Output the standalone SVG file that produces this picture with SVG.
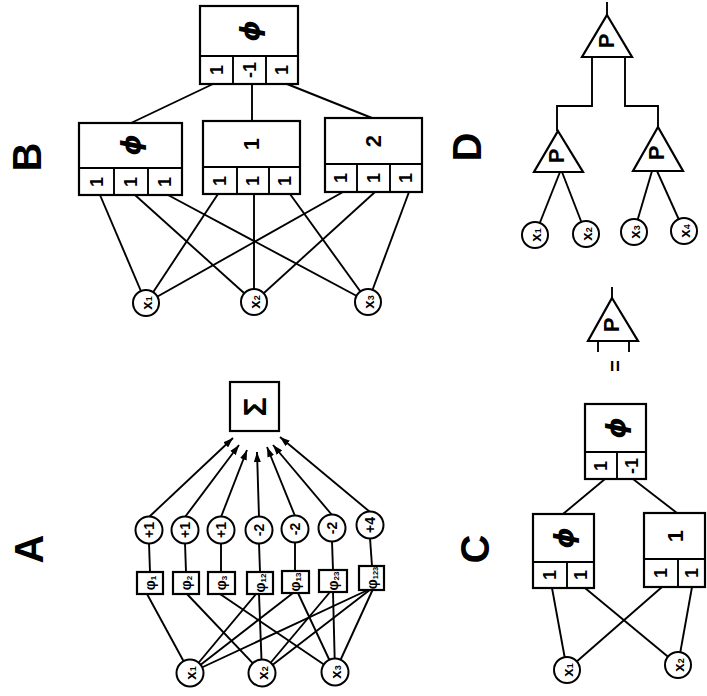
<svg xmlns="http://www.w3.org/2000/svg" width="707" height="696" viewBox="0 0 707 696">
<defs>
<style>
.ln{stroke:#000;stroke-width:1.9;fill:none}
.bx{fill:#fff;stroke:#000;stroke-width:2.2}
.nd{fill:#fff;stroke:#000;stroke-width:2}
text{font-family:"Liberation Sans",Arial,sans-serif;font-weight:bold;fill:#000;text-anchor:middle;dominant-baseline:central}
.lab{font-size:40px}
.c1{font-size:18px}
.phi{font-family:"DejaVu Sans","Liberation Sans",sans-serif;font-size:27px;font-weight:bold;font-style:italic}
.num{font-size:22px}
.w{font-size:14px}
.f{font-size:14px}
.x{font-size:15px}
.P{font-size:22px}
</style>
<marker id="ah" viewBox="0 0 10 7" refX="10" refY="3.5" markerWidth="10" markerHeight="7" markerUnits="userSpaceOnUse" orient="auto"><path d="M0,0 L10,3.5 L0,7 z" fill="#000"/></marker>
</defs>
<rect width="707" height="696" fill="#fff"/>

<g id="labels">
<text class="lab" transform="translate(27 157) rotate(-90)">B</text>
<text class="lab" transform="translate(29 549) rotate(-90)">A</text>
<text class="lab" transform="translate(467 147) rotate(-90)">D</text>
<text class="lab" transform="translate(475 549) rotate(-90)">C</text>
</g>

<g id="connectors" class="ln">
<line x1="213" y1="84" x2="131" y2="123"/>
<line x1="252" y1="84" x2="252" y2="121"/>
<line x1="287" y1="84" x2="372" y2="118"/>
<line x1="100" y1="195" x2="146" y2="303"/>
<line x1="135" y1="195" x2="254" y2="302"/>
<line x1="168" y1="195" x2="368" y2="302"/>
<line x1="218" y1="194" x2="146" y2="303"/>
<line x1="254" y1="194" x2="254" y2="302"/>
<line x1="290" y1="194" x2="368" y2="302"/>
<line x1="343" y1="192" x2="146" y2="303"/>
<line x1="375" y1="192" x2="254" y2="302"/>
<line x1="409" y1="192" x2="368" y2="302"/>
<line x1="147" y1="594" x2="190" y2="673"/>
<line x1="187" y1="594" x2="262" y2="673"/>
<line x1="220" y1="594" x2="335" y2="672"/>
<line x1="256" y1="594" x2="190" y2="673"/>
<line x1="259" y1="594" x2="262" y2="673"/>
<line x1="293" y1="593" x2="190" y2="673"/>
<line x1="298" y1="593" x2="335" y2="672"/>
<line x1="330" y1="592" x2="262" y2="673"/>
<line x1="333" y1="592" x2="335" y2="672"/>
<line x1="370" y1="589" x2="190" y2="673"/>
<line x1="371" y1="589" x2="262" y2="673"/>
<line x1="373" y1="589" x2="335" y2="672"/>
<line x1="150" y1="572" x2="149" y2="543"/>
<line x1="186" y1="572" x2="185" y2="543"/>
<line x1="221" y1="572" x2="221" y2="543"/>
<line x1="260" y1="572" x2="259" y2="543"/>
<line x1="295" y1="571" x2="295" y2="542"/>
<line x1="333" y1="570" x2="332" y2="541"/>
<line x1="372" y1="566" x2="370" y2="538"/>
<g marker-end="url(#ah)">
<line x1="149" y1="517" x2="233" y2="438"/>
<line x1="185" y1="517" x2="239" y2="445"/>
<line x1="221" y1="517" x2="247" y2="450"/>
<line x1="259" y1="517" x2="257" y2="452"/>
<line x1="295" y1="516" x2="267" y2="447"/>
<line x1="332" y1="515" x2="273" y2="445"/>
<line x1="370" y1="512" x2="280" y2="437"/>
</g>
<line x1="605" y1="479" x2="563" y2="514"/>
<line x1="633" y1="479" x2="677" y2="513"/>
<line x1="552" y1="588" x2="567" y2="670"/>
<line x1="585" y1="588" x2="678" y2="665"/>
<line x1="662" y1="587" x2="567" y2="670"/>
<line x1="692" y1="587" x2="678" y2="665"/>
<line x1="607" y1="2" x2="607" y2="15"/>
<polyline points="592,57 592,106 557,106 557,131"/>
<polyline points="625,57 625,106 658,106 658,127"/>
<line x1="560" y1="172" x2="535" y2="235"/>
<line x1="562" y1="172" x2="586" y2="234"/>
<line x1="652" y1="171" x2="634" y2="232"/>
<line x1="657" y1="171" x2="684" y2="231"/>
<line x1="612" y1="287" x2="612" y2="298"/>
<line x1="598" y1="341" x2="598" y2="352"/>
<line x1="629" y1="341" x2="629" y2="352"/>
</g>

<g id="B-top">
<rect class="bx" x="200" y="6" width="98" height="78"/>
<path class="ln" d="M200,56 H298 M233,56 V84 M266,56 V84"/>
<text class="phi" transform="translate(249 31) rotate(-90)">ϕ</text>
<text class="c1" transform="translate(216.5 70) rotate(-90)">1</text>
<text class="c1" transform="translate(249.5 70) rotate(-90)">-1</text>
<text class="c1" transform="translate(282 70) rotate(-90)">1</text>
</g>
<g id="B-phi">
<rect class="bx" x="79" y="123" width="103" height="72"/>
<path class="ln" d="M79,168 H182 M114,168 V195 M148,168 V195"/>
<text class="phi" transform="translate(130 145) rotate(-90)">ϕ</text>
<text class="c1" transform="translate(96.5 182) rotate(-90)">1</text>
<text class="c1" transform="translate(131 182) rotate(-90)">1</text>
<text class="c1" transform="translate(165 182) rotate(-90)">1</text>
</g>
<g id="B-1">
<rect class="bx" x="203" y="121" width="97" height="73"/>
<path class="ln" d="M203,167 H300 M237,167 V194 M269,167 V194"/>
<text class="num" transform="translate(251 144) rotate(-90)">1</text>
<text class="c1" transform="translate(220 181) rotate(-90)">1</text>
<text class="c1" transform="translate(253 181) rotate(-90)">1</text>
<text class="c1" transform="translate(285 181) rotate(-90)">1</text>
</g>
<g id="B-2">
<rect class="bx" x="325" y="118" width="97" height="74"/>
<path class="ln" d="M325,164 H422 M357,164 V192 M390,164 V192"/>
<text class="num" transform="translate(373 141) rotate(-90)">2</text>
<text class="c1" transform="translate(341 178) rotate(-90)">1</text>
<text class="c1" transform="translate(373.5 178) rotate(-90)">1</text>
<text class="c1" transform="translate(406 178) rotate(-90)">1</text>
</g>
<g id="B-x1"><circle class="nd" cx="146" cy="303" r="13"/><text class="x" transform="translate(146 303) rotate(-90)">x<tspan font-size="9" dy="3">1</tspan></text></g>
<g id="B-x2"><circle class="nd" cx="254" cy="302" r="13"/><text class="x" transform="translate(254 302) rotate(-90)">x<tspan font-size="9" dy="3">2</tspan></text></g>
<g id="B-x3"><circle class="nd" cx="368" cy="302" r="13"/><text class="x" transform="translate(368 302) rotate(-90)">x<tspan font-size="9" dy="3">3</tspan></text></g>

<g id="A-sum"><rect class="bx" x="230" y="382" width="49" height="49"/><text transform="translate(255 407) rotate(-90)" font-size="32" font-weight="normal">Σ</text></g>
<g id="A-w1"><circle class="nd" cx="149" cy="530" r="13.5"/><text class="w" transform="translate(149 530) rotate(-90)">+1</text></g>
<g id="A-w2"><circle class="nd" cx="185" cy="530" r="13.5"/><text class="w" transform="translate(185 530) rotate(-90)">+1</text></g>
<g id="A-w3"><circle class="nd" cx="221" cy="530" r="13.5"/><text class="w" transform="translate(221 530) rotate(-90)">+1</text></g>
<g id="A-w12"><circle class="nd" cx="259" cy="530" r="13.5"/><text class="w" transform="translate(259 530) rotate(-90)">-2</text></g>
<g id="A-w13"><circle class="nd" cx="295" cy="529" r="13.5"/><text class="w" transform="translate(295 529) rotate(-90)">-2</text></g>
<g id="A-w23"><circle class="nd" cx="332" cy="528" r="13.5"/><text class="w" transform="translate(332 528) rotate(-90)">-2</text></g>
<g id="A-w123"><circle class="nd" cx="370" cy="525" r="13.5"/><text class="w" transform="translate(370 525) rotate(-90)">+4</text></g>
<g id="A-f1"><rect class="bx" x="137" y="572" width="26" height="22"/><text class="f" transform="translate(150 583) rotate(-90)">φ<tspan font-size="8" dy="3">1</tspan></text></g>
<g id="A-f2"><rect class="bx" x="173" y="572" width="26" height="22"/><text class="f" transform="translate(186 583) rotate(-90)">φ<tspan font-size="8" dy="3">2</tspan></text></g>
<g id="A-f3"><rect class="bx" x="208" y="572" width="27" height="22"/><text class="f" transform="translate(221 583) rotate(-90)">φ<tspan font-size="8" dy="3">3</tspan></text></g>
<g id="A-f12"><rect class="bx" x="247" y="572" width="26" height="22"/><text class="f" transform="translate(260 583) rotate(-90)">φ<tspan font-size="8" dy="3">12</tspan></text></g>
<g id="A-f13"><rect class="bx" x="282" y="571" width="27" height="22"/><text class="f" transform="translate(295 582) rotate(-90)">φ<tspan font-size="8" dy="3">13</tspan></text></g>
<g id="A-f23"><rect class="bx" x="319" y="570" width="28" height="22"/><text class="f" transform="translate(333 581) rotate(-90)">φ<tspan font-size="8" dy="3">23</tspan></text></g>
<g id="A-f123"><rect class="bx" x="359" y="566" width="25" height="24"/><text class="f" transform="translate(371.5 578) rotate(-90)">φ<tspan font-size="7.5" dy="3">123</tspan></text></g>
<g id="A-x1"><circle class="nd" cx="190" cy="673" r="13.5"/><text class="x" transform="translate(190 673) rotate(-90)">x<tspan font-size="9" dy="3">1</tspan></text></g>
<g id="A-x2"><circle class="nd" cx="262" cy="673" r="13.5"/><text class="x" transform="translate(262 673) rotate(-90)">x<tspan font-size="9" dy="3">2</tspan></text></g>
<g id="A-x3"><circle class="nd" cx="335" cy="672" r="13.5"/><text class="x" transform="translate(335 672) rotate(-90)">x<tspan font-size="9" dy="3">3</tspan></text></g>

<g id="C-top">
<rect class="bx" x="585" y="404" width="61" height="75"/>
<path class="ln" d="M585,452 H646 M617,452 V479"/>
<text class="phi" transform="translate(615 428) rotate(-90)">ϕ</text>
<text class="c1" transform="translate(601 466) rotate(-90)">1</text>
<text class="c1" transform="translate(632 466) rotate(-90)">-1</text>
</g>
<g id="C-phi">
<rect class="bx" x="533" y="514" width="61" height="74"/>
<path class="ln" d="M533,562 H594 M567,562 V588"/>
<text class="phi" transform="translate(563 538) rotate(-90)">ϕ</text>
<text class="c1" transform="translate(550 575) rotate(-90)">1</text>
<text class="c1" transform="translate(581 575) rotate(-90)">1</text>
</g>
<g id="C-1">
<rect class="bx" x="644" y="513" width="61" height="74"/>
<path class="ln" d="M644,559 H705 M678,559 V587"/>
<text class="num" transform="translate(675 536) rotate(-90)">1</text>
<text class="c1" transform="translate(661 573) rotate(-90)">1</text>
<text class="c1" transform="translate(692 573) rotate(-90)">1</text>
</g>
<g id="C-x1"><circle class="nd" cx="567" cy="670" r="13"/><text class="x" transform="translate(567 670) rotate(-90)">x<tspan font-size="9" dy="3">1</tspan></text></g>
<g id="C-x2"><circle class="nd" cx="678" cy="665" r="13"/><text class="x" transform="translate(678 665) rotate(-90)">x<tspan font-size="9" dy="3">2</tspan></text></g>
<g id="equals"><text transform="translate(615 366) rotate(-90)" font-size="20" font-weight="normal">=</text></g>

<g id="P-single"><path class="bx" d="M612,298 L638,341 L588,341 Z"/><text class="P" transform="translate(611 325) rotate(-90)">P</text></g>

<g id="D-top"><path class="bx" d="M607,15 L632,57 L582,57 Z"/><text class="P" transform="translate(606 41) rotate(-90)">P</text></g>
<g id="D-left"><path class="bx" d="M558,131 L583,172 L534,172 Z"/><text class="P" transform="translate(556 156) rotate(-90)">P</text></g>
<g id="D-right"><path class="bx" d="M658,127 L683,171 L633,171 Z"/><text class="P" transform="translate(656 153) rotate(-90)">P</text></g>
<g id="D-x1"><circle class="nd" cx="535" cy="235" r="13"/><text class="x" transform="translate(535 235) rotate(-90)">x<tspan font-size="9" dy="3">1</tspan></text></g>
<g id="D-x2"><circle class="nd" cx="586" cy="234" r="13"/><text class="x" transform="translate(586 234) rotate(-90)">x<tspan font-size="9" dy="3">2</tspan></text></g>
<g id="D-x3"><circle class="nd" cx="634" cy="232" r="13"/><text class="x" transform="translate(634 232) rotate(-90)">x<tspan font-size="9" dy="3">3</tspan></text></g>
<g id="D-x4"><circle class="nd" cx="684" cy="231" r="13"/><text class="x" transform="translate(684 231) rotate(-90)">x<tspan font-size="9" dy="3">4</tspan></text></g>
</svg>
